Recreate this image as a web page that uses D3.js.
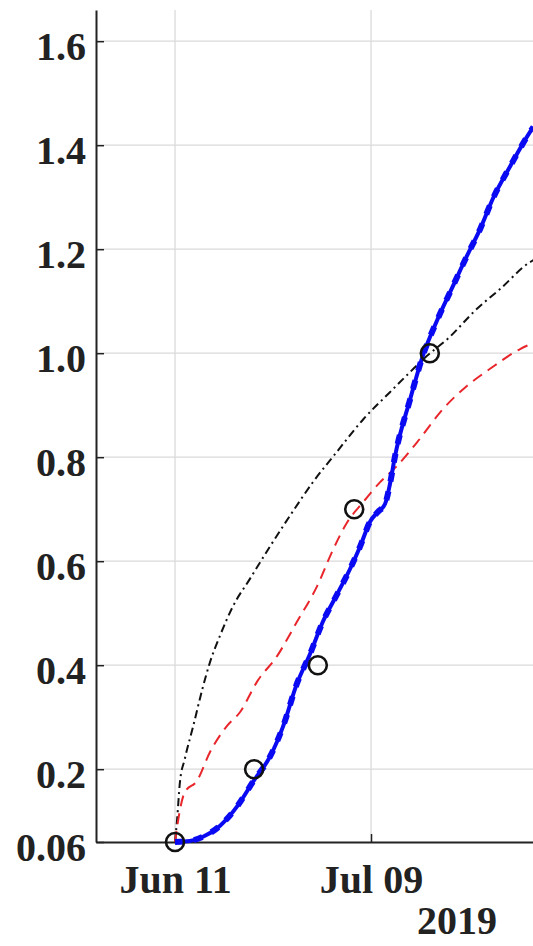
<!DOCTYPE html>
<html>
<head>
<meta charset="utf-8">
<script src="https://cdn.jsdelivr.net/npm/d3@7/dist/d3.min.js"></script>
<style>
body { margin: 0; background: #fff; }
</style>
</head>
<body>
<div id="graph"></div>
<script>
// day offsets are counted from Jun 11, 2019
var startDate = new Date(2019, 5, 11);

var xTickDays = [0, 28];
var xTickLabels = ["Jun 11", "Jul 09"];
var yearLabel = "2019";
var yTicks = [0.06, 0.2, 0.4, 0.6, 0.8, 1.0, 1.2, 1.4, 1.6];
var yTickLabels = ["0.06", "0.2", "0.4", "0.6", "0.8", "1.0", "1.2", "1.4", "1.6"];

// observed points (circles)
var obsDays   = [0, 11.3, 20.4, 25.6, 36.4];
var obsValues = [0.06, 0.2, 0.4, 0.7, 1.0];

// blue solid fit
var blueDays   = [0, 2.1, 4.0, 6.4, 8.9, 11.1, 13.6, 15.4, 17.4, 19.3, 21.1, 23.1, 25.0, 26.4, 27.9, 29.0, 30.0, 30.7, 31.4, 33.6, 35.4, 37.4, 39.7, 41.7, 43.6, 45.4, 47.9, 50.7, 51.2];
var blueValues = [0.06, 0.062, 0.07, 0.091, 0.129, 0.175, 0.225, 0.281, 0.364, 0.422, 0.483, 0.535, 0.585, 0.627, 0.677, 0.695, 0.71, 0.748, 0.8, 0.912, 0.995, 1.062, 1.129, 1.187, 1.239, 1.297, 1.36, 1.425, 1.435];

// red dashed curve
var redDays   = [0, 0.4, 1.4, 3.1, 5.0, 7.4, 9.3, 11.7, 14.6, 17.4, 20.3, 22.6, 24.6, 26.9, 29.3, 31.7, 34.6, 38.3, 41.7, 45.0, 49.3, 51.2];
var redValues = [0.06, 0.098, 0.156, 0.177, 0.233, 0.283, 0.31, 0.368, 0.418, 0.483, 0.552, 0.623, 0.675, 0.714, 0.752, 0.783, 0.829, 0.893, 0.937, 0.97, 1.008, 1.02];

// black dash-dot curve
var blackDays   = [0, 0.3, 0.7, 1.4, 2.6, 3.9, 5.0, 6.4, 8.3, 10.7, 13.6, 16.4, 19.7, 23.1, 26.9, 30.7, 33.6, 36.0, 38.9, 43.1, 46.4, 50.7, 51.2];
var blackValues = [0.06, 0.104, 0.175, 0.22, 0.283, 0.354, 0.406, 0.456, 0.514, 0.566, 0.629, 0.687, 0.752, 0.81, 0.873, 0.925, 0.964, 0.995, 1.027, 1.085, 1.123, 1.175, 1.179];

function toDate(d) { return new Date(startDate.getTime() + d * 864e5); }
function zip(days, vals) { return days.map(function(d, i) { return {date: toDate(d), value: vals[i]}; }); }

var width = 533, height = 946;
var margin = {top: 10, left: 96, right: 0, bottom: 104};
var plotBottom = height - margin.bottom;

var svg = d3.select("#graph").append("svg")
	.attr("width", width)
	.attr("height", height)
	.style("font-family", "'Liberation Serif', 'Times New Roman', serif");

var x = d3.scaleTime()
	.domain([toDate(-11.29), toDate(51.14)])
	.range([margin.left, width]);

var y = d3.scaleLinear()
	.domain([0.06, 0.06 + (plotBottom - margin.top) / 520])
	.range([plotBottom, margin.top]);

svg.append("clipPath").attr("id", "plotclip")
	.append("rect")
	.attr("x", margin.left).attr("y", margin.top - 2)
	.attr("width", width - margin.left).attr("height", plotBottom - margin.top + 6);

// grid
svg.append("g").selectAll("line.h")
	.data(yTicks.slice(1))
	.enter().append("line")
	.attr("x1", margin.left).attr("x2", width)
	.attr("y1", function(d) { return y(d); }).attr("y2", function(d) { return y(d); })
	.attr("stroke", "#dadada").attr("stroke-width", 1.3);

svg.append("g").selectAll("line.v")
	.data(xTickDays)
	.enter().append("line")
	.attr("x1", function(d) { return x(toDate(d)); }).attr("x2", function(d) { return x(toDate(d)); })
	.attr("y1", margin.top).attr("y2", plotBottom)
	.attr("stroke", "#dadada").attr("stroke-width", 1.3);

// axes
var yAxis = svg.append("g")
	.attr("transform", "translate(" + margin.left + ",0)")
	.call(d3.axisLeft(y).tickValues(yTicks)
		.tickFormat(function(d, i) { return yTickLabels[i]; })
		.tickSizeInner(-8).tickSizeOuter(0).tickPadding(10));

var xAxis = svg.append("g")
	.attr("transform", "translate(0," + plotBottom + ")")
	.call(d3.axisBottom(x).tickValues(xTickDays.map(toDate))
		.tickFormat(function(d, i) { return xTickLabels[i]; })
		.tickSizeInner(-8).tickSizeOuter(0).tickPadding(23));

[yAxis, xAxis].forEach(function(g) {
	g.attr("font-family", null).attr("font-size", null);
	g.select(".domain").attr("stroke", "#222").attr("stroke-width", 2);
	g.selectAll(".tick line").attr("stroke", "#222").attr("stroke-width", 1.5);
	g.selectAll(".tick text")
		.attr("fill", "#222")
		.style("font-size", "40px")
		.style("font-weight", "bold");
});
yAxis.selectAll(".tick text").attr("dy", "0.45em");

svg.append("text")
	.attr("x", 457).attr("y", 934)
	.attr("text-anchor", "middle")
	.attr("fill", "#222")
	.style("font-size", "40px")
	.style("font-weight", "bold")
	.text(yearLabel);

// lines
var line = d3.line()
	.x(function(d) { return x(d.date); })
	.y(function(d) { return y(d.value); })
	.curve(d3.curveMonotoneX);

var plot = svg.append("g").attr("clip-path", "url(#plotclip)");

plot.append("path").datum(zip(blackDays, blackValues))
	.attr("d", line).attr("fill", "none")
	.attr("stroke", "#111").attr("stroke-width", 2)
	.attr("stroke-dasharray", "8,4,2,4");

plot.append("path").datum(zip(redDays, redValues))
	.attr("d", line).attr("fill", "none")
	.attr("stroke", "#e8262b").attr("stroke-width", 2)
	.attr("stroke-dasharray", "11,7");

var blue = zip(blueDays, blueValues);
plot.append("path").datum(blue)
	.attr("d", line).attr("fill", "none")
	.attr("stroke", "#0a0af2").attr("stroke-width", 4);

plot.append("path").datum(blue)
	.attr("d", line).attr("fill", "none")
	.attr("stroke", "#0a0af2").attr("stroke-width", 6)
	.attr("stroke-dasharray", "9,10");

// observed circles
svg.append("g").selectAll("circle")
	.data(zip(obsDays, obsValues))
	.enter().append("circle")
	.attr("cx", function(d) { return x(d.date); })
	.attr("cy", function(d) { return y(d.value); })
	.attr("r", 9)
	.attr("fill", "none")
	.attr("stroke", "#111")
	.attr("stroke-width", 2.6);
</script>
</body>
</html>
